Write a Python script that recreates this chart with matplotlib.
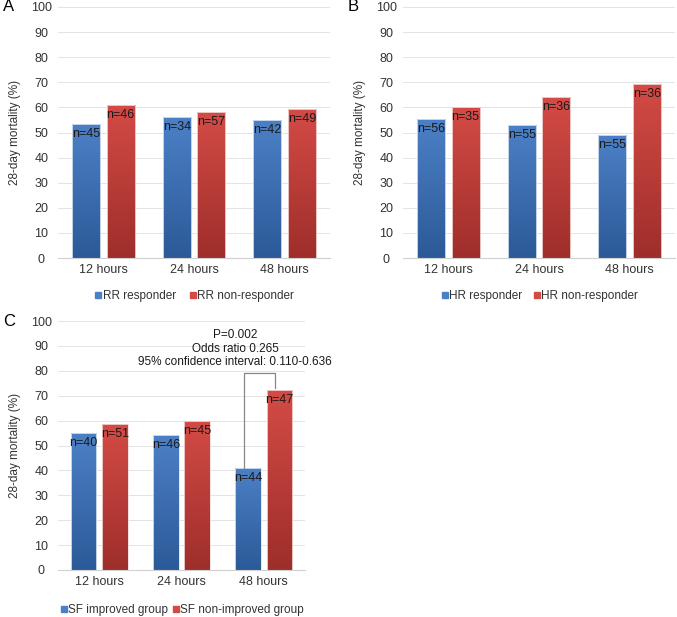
import numpy as np
import matplotlib
matplotlib.use("Agg")
import matplotlib.pyplot as plt
from matplotlib.colors import LinearSegmentedColormap
from matplotlib.lines import Line2D

plt.rcParams["font.family"] = ["Liberation Sans", "DejaVu Sans"]

# -------- data --------
times = ["12 hours", "24 hours", "48 hours"]

rr_resp = [53.3, 56.0, 55.0]
rr_nonresp = [61.0, 58.0, 59.3]
rr_resp_n = ["n=45", "n=34", "n=42"]
rr_nonresp_n = ["n=46", "n=57", "n=49"]

hr_resp = [55.5, 53.0, 49.2]
hr_nonresp = [60.0, 64.0, 69.4]
hr_resp_n = ["n=56", "n=55", "n=55"]
hr_nonresp_n = ["n=35", "n=36", "n=36"]

sf_imp = [55.0, 54.2, 41.0]
sf_nonimp = [58.8, 60.0, 72.3]
sf_imp_n = ["n=40", "n=46", "n=44"]
sf_nonimp_n = ["n=51", "n=45", "n=47"]

stat_text = "P=0.002\nOdds ratio 0.265\n95% confidence interval: 0.110-0.636"

BLUE_TOP, BLUE_BOT = "#4c80c6", "#2c5a98"
RED_TOP, RED_BOT = "#d44b46", "#9e2e2a"
GRID = "#e4e4e4"
TXT = "#333333"
DPI = 100


def gradient_bars(ax, bars, top, bot):
    cmap = LinearSegmentedColormap.from_list("g", [bot, top])
    grad = np.linspace(0, 1, 256).reshape(-1, 1)
    for b in bars:
        x0, y0 = b.get_x(), b.get_y()
        w, h = b.get_width(), b.get_height()
        im = ax.imshow(grad, cmap=cmap, aspect="auto", origin="lower",
                       extent=[x0, x0 + w, y0, y0 + h], zorder=2)
        im.set_clip_path(b)
        b.set_facecolor("none")


def panel(ax, v1, v2, n1, n2, leg1, leg2, letter, leg_y, leg_gap):
    x = np.arange(len(times))
    w, off = 0.31, 0.19
    b1 = ax.bar(x - off, v1, w, color=BLUE_TOP, edgecolor="#dbe6f3", linewidth=0.6, zorder=3)
    b2 = ax.bar(x + off, v2, w, color=RED_TOP, edgecolor="#f3dcdb", linewidth=0.6, zorder=3)
    gradient_bars(ax, b1, BLUE_TOP, BLUE_BOT)
    gradient_bars(ax, b2, RED_TOP, RED_BOT)
    for xi, v, t in zip(x - off, v1, n1):
        ax.text(xi, v - 1.6, t, ha="center", va="top", fontsize=9, color="#1a1a1a", zorder=4)
    for xi, v, t in zip(x + off, v2, n2):
        ax.text(xi, v - 1.6, t, ha="center", va="top", fontsize=9, color="#1a1a1a", zorder=4)
    ax.set_xlim(-0.5, len(times) - 0.5)
    ax.set_ylim(0, 100)
    ax.set_yticks(range(0, 101, 10))
    ax.set_xticks(x)
    ax.set_xticklabels(times)
    ax.tick_params(length=0, labelsize=9, colors=TXT, pad=4)
    ax.tick_params(axis="y", pad=12)
    for lab in ax.get_yticklabels():
        lab.set_horizontalalignment("center")
    ax.grid(axis="y", color=GRID, lw=0.7, zorder=0)
    for s in ["top", "right", "left"]:
        ax.spines[s].set_visible(False)
    ax.spines["bottom"].set_color("#d0d0d0")
    ax.set_ylabel("28-day mortality (%)", fontsize=8.5, color=TXT)
    # y label centre sits about 37 px left of the plot area
    wpx = ax.get_position().width * fig.get_figwidth() * DPI
    ax.yaxis.set_label_coords(-37 / wpx, 0.5)
    ax.text(-55 / wpx, 1.0, letter, transform=ax.transAxes, fontsize=12, va="center", ha="left")
    handles = [Line2D([], [], marker="s", ls="", ms=4, color=BLUE_TOP),
               Line2D([], [], marker="s", ls="", ms=4, color=RED_TOP)]
    leg = ax.legend(handles, [leg1, leg2], loc="center", bbox_to_anchor=(0.5, leg_y), ncol=2,
                    frameon=False, fontsize=8.5, handletextpad=0.0, columnspacing=leg_gap,
                    handlelength=0.8)
    for t in leg.get_texts():
        t.set_color(TXT)


fig = plt.figure(figsize=(6.77, 6.17), dpi=DPI)
axA = fig.add_axes([0.0857, 0.5818, 0.4017, 0.4069])
axB = fig.add_axes([0.5953, 0.5818, 0.4017, 0.4069])
axC = fig.add_axes([0.0857, 0.0762, 0.3648, 0.4035])

panel(axA, rr_resp, rr_nonresp, rr_resp_n, rr_nonresp_n,
      "RR responder", "RR non-responder", "A", -0.15, 1.0)
panel(axB, hr_resp, hr_nonresp, hr_resp_n, hr_nonresp_n,
      "HR responder", "HR non-responder", "B", -0.15, 0.8)
panel(axC, sf_imp, sf_nonimp, sf_imp_n, sf_nonimp_n,
      "SF improved group", "SF non-improved group", "C", -0.16, 0.2)

# significance bracket in panel C
xl, xr, yb = 2 - 0.24, 2 + 0.14, 79
axC.plot([xl, xl, xr, xr], [sf_imp[2], yb, yb, sf_nonimp[2] + 0.8], color="#888888", lw=0.9, zorder=5)
axC.text(1.65, 81, stat_text, ha="center", va="bottom", fontsize=8.5, color="#1a1a1a",
         linespacing=1.2, clip_on=False)

fig.savefig("out.png", dpi=DPI)
